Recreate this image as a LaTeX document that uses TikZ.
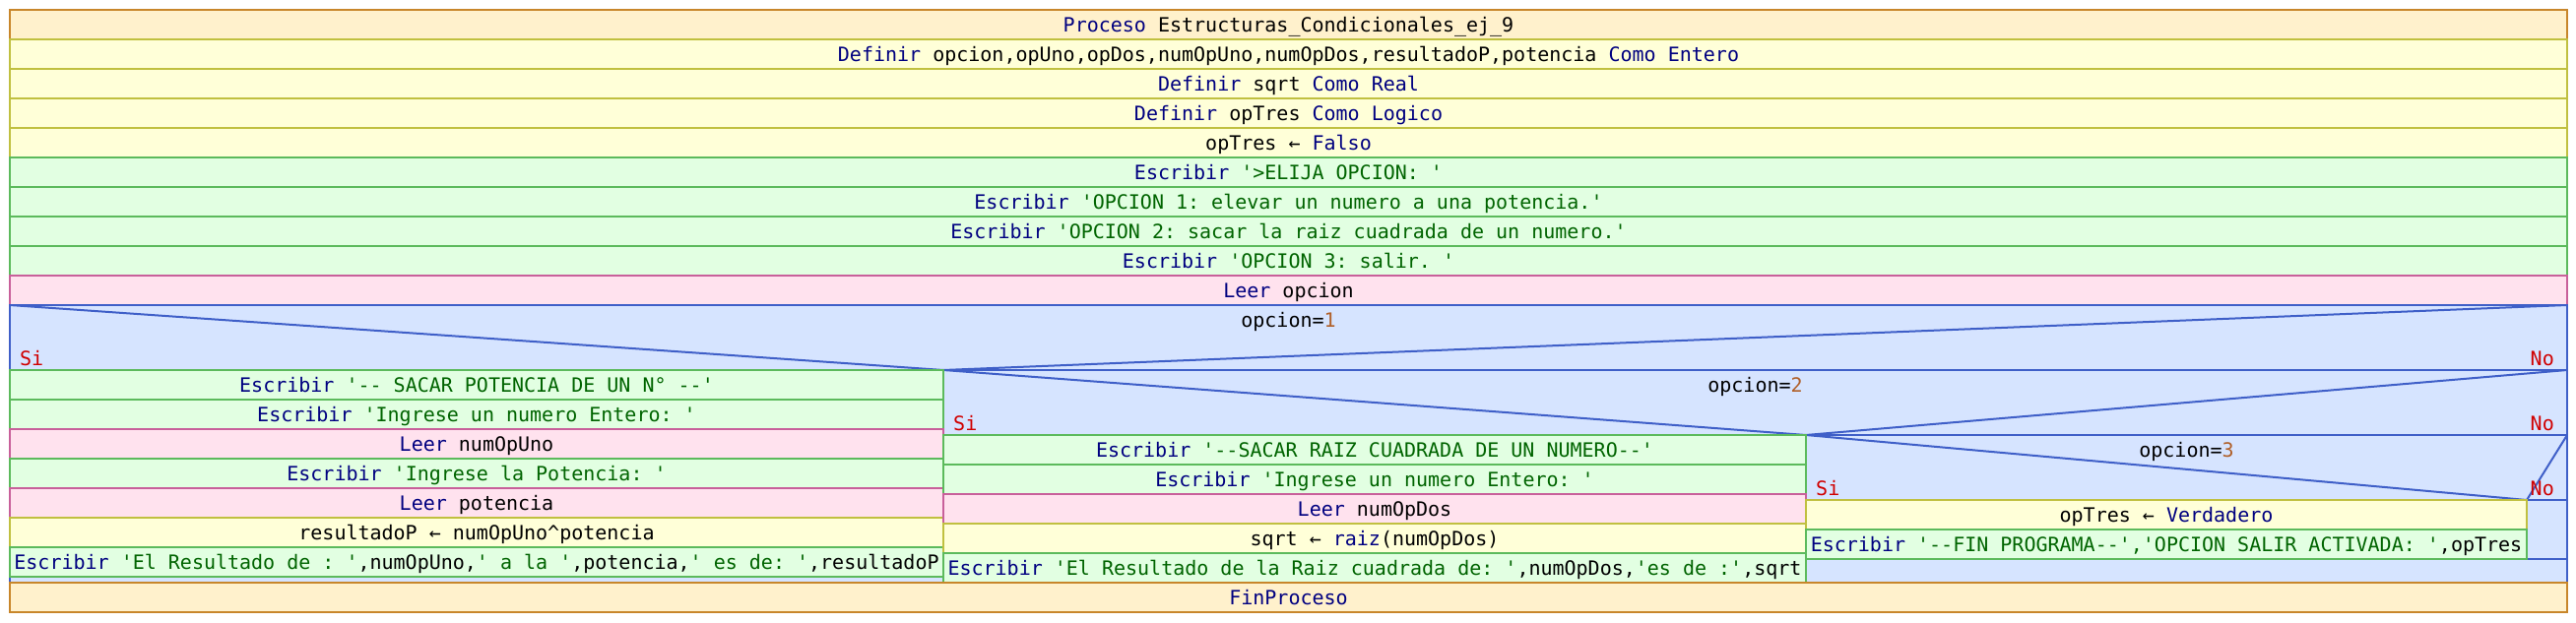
\documentclass[tikz,border=0pt]{standalone}
\usepackage{fontspec}
\setmonofont{DejaVu Sans Mono}
\definecolor{procF}{HTML}{FFF1CC}
\definecolor{procD}{HTML}{C8862A}
\definecolor{asgF}{HTML}{FFFFD8}
\definecolor{asgD}{HTML}{C0C040}
\definecolor{wrF}{HTML}{E2FFE2}
\definecolor{wrD}{HTML}{5CBA5C}
\definecolor{rdF}{HTML}{FFE2EE}
\definecolor{rdD}{HTML}{C8609A}
\definecolor{ifF}{HTML}{D6E4FF}
\definecolor{ifD}{HTML}{3F5FC8}
\definecolor{kwC}{HTML}{000080}
\definecolor{stC}{HTML}{006400}
\definecolor{nmC}{HTML}{B0602A}
\definecolor{siC}{HTML}{D00000}
\newcommand\pkw[1]{\textcolor{kwC}{#1}}
\newcommand\pst[1]{\textcolor{stC}{#1}}
\newcommand\pnm[1]{\textcolor{nmC}{#1}}
\begin{document}
\begin{tikzpicture}[x=1pt,y=-1pt,
  font=\ttfamily\fontsize{20}{24}\selectfont,
  cell/.style={draw, line width=2pt, inner sep=0pt, outer sep=0pt, minimum height=30pt, text height=16pt, text depth=2pt},
  proc/.style={cell, fill=procF, draw=procD},
  asg/.style={cell, fill=asgF, draw=asgD},
  wr/.style={cell, fill=wrF, draw=wrD},
  rd/.style={cell, fill=rdF, draw=rdD},
  full/.style={minimum width=2597pt},
  colL/.style={minimum width=948pt},
  colM/.style={minimum width=876pt},
  colR/.style={minimum width=732pt},
  ifbox/.style={fill=ifF, draw=ifD, line width=2pt},
  ifline/.style={draw=ifD, line width=2pt},
  yesno/.style={text=siC, inner sep=0pt},
  cond/.style={inner sep=0pt, anchor=base}]
\useasboundingbox (0,0) rectangle (2616,632);
% main sequence
\node[proc,full] (r0) at (1308.5,25) {\pkw{Proceso} Estructuras\_Condicionales\_ej\_9};
\node[asg,full] (r1) at (1308.5,55) {\pkw{Definir} opcion,opUno,opDos,numOpUno,numOpDos,resultadoP,potencia \pkw{Como} \pkw{Entero}};
\node[asg,full] (r2) at (1308.5,85) {\pkw{Definir} sqrt \pkw{Como} \pkw{Real}};
\node[asg,full] (r3) at (1308.5,115) {\pkw{Definir} opTres \pkw{Como} \pkw{Logico}};
\node[asg,full] (r4) at (1308.5,145) {opTres ← \pkw{Falso}};
\node[wr,full] (r5) at (1308.5,175) {\pkw{Escribir} \pst{'>ELIJA OPCION: '}};
\node[wr,full] (r6) at (1308.5,205) {\pkw{Escribir} \pst{'OPCION 1: elevar un numero a una potencia.'}};
\node[wr,full] (r7) at (1308.5,235) {\pkw{Escribir} \pst{'OPCION 2: sacar la raiz cuadrada de un numero.'}};
\node[wr,full] (r8) at (1308.5,265) {\pkw{Escribir} \pst{'OPCION 3: salir. '}};
\node[rd,full] (r9) at (1308.5,295) {\pkw{Leer} opcion};
% if blocks
\path[ifbox] (10,310) rectangle (2607,592);
\path[ifbox] (958,376) rectangle (2607,592);
\path[ifbox] (1834,442) rectangle (2607,568);
\path[ifbox] (2566,508) rectangle (2607,568);
\coordinate (a1) at (10,310); \coordinate (m1) at (958,376); \coordinate (b1) at (2607,310);
\coordinate (a2) at (958,376); \coordinate (m2) at (1834,442); \coordinate (b2) at (2607,376);
\coordinate (a3) at (1834,442); \coordinate (m3) at (2566,508); \coordinate (b3) at (2607,442);
\draw[ifline] (a1) -- (m1) -- (b1);
\draw[ifline] (a2) -- (m2) -- (b2);
\draw[ifline] (a3) -- (m3) -- (b3);
\node[cond] (c1) at (1308.5,332) {opcion=\pnm{1}};
\node[cond] (c2) at (1782.5,398) {opcion=\pnm{2}};
\node[cond] (c3) at (2220.5,464) {opcion=\pnm{3}};
\node[yesno,anchor=base west] (si1) at (20,371) {Si};
\node[yesno,anchor=base east] (no1) at (2594,371) {No};
\node[yesno,anchor=base west] (si2) at (968,437) {Si};
\node[yesno,anchor=base east] (no2) at (2594,437) {No};
\node[yesno,anchor=base west] (si3) at (1844,503) {Si};
\node[yesno,anchor=base east] (no3) at (2594,503) {No};
% left branch
\node[wr,colL] (l1) at (484,391) {\pkw{Escribir} \pst{'-- SACAR POTENCIA DE UN N° --'}};
\node[wr,colL] (l2) at (484,421) {\pkw{Escribir} \pst{'Ingrese un numero Entero: '}};
\node[rd,colL] (l3) at (484,451) {\pkw{Leer} numOpUno};
\node[wr,colL] (l4) at (484,481) {\pkw{Escribir} \pst{'Ingrese la Potencia: '}};
\node[rd,colL] (l5) at (484,511) {\pkw{Leer} potencia};
\node[asg,colL] (l6) at (484,541) {resultadoP ← numOpUno\textasciicircum potencia};
\node[wr,colL] (l7) at (484,571) {\pkw{Escribir} \pst{'El Resultado de : '},numOpUno,\pst{' a la '},potencia,\pst{' es de: '},resultadoP};
% middle branch
\node[wr,colM] (m1n) at (1396,457) {\pkw{Escribir} \pst{'--SACAR RAIZ CUADRADA DE UN NUMERO--'}};
\node[wr,colM] (m2n) at (1396,487) {\pkw{Escribir} \pst{'Ingrese un numero Entero: '}};
\node[rd,colM] (m3n) at (1396,517) {\pkw{Leer} numOpDos};
\node[asg,colM] (m4n) at (1396,547) {sqrt ← \pkw{raiz}(numOpDos)};
\node[wr,colM] (m5n) at (1396,577) {\pkw{Escribir} \pst{'El Resultado de la Raiz cuadrada de: '},numOpDos,\pst{'es de :'},sqrt};
% right branch
\node[asg,colR] (q1) at (2200,523) {opTres ← \pkw{Verdadero}};
\node[wr,colR] (q2) at (2200,553) {\pkw{Escribir} \pst{'--FIN PROGRAMA--','OPCION SALIR ACTIVADA: '},opTres};
% end
\node[proc,full] (fin) at (1308.5,607) {\pkw{FinProceso}};
\end{tikzpicture}
\end{document}
